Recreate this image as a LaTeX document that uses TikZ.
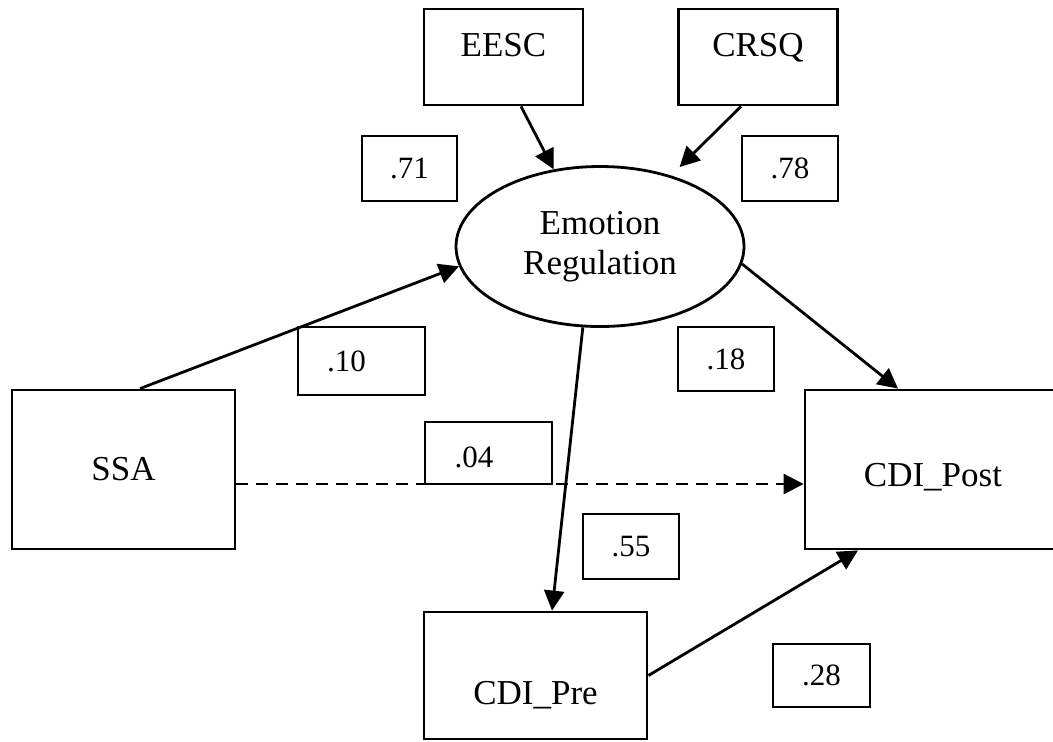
\documentclass[tikz,border=0pt]{standalone}
\usepackage{fontspec}
\setmainfont{Liberation Serif}
\usepackage{tikz}
\usetikzlibrary{shapes,arrows.meta,positioning}

\tikzset{
  var/.style={draw, rectangle, line width=1.4pt, inner sep=0pt, font=\fontsize{17.5}{20}\selectfont},
  coef/.style={draw, rectangle, line width=1.4pt, inner sep=0pt, font=\fontsize{15.5}{18}\selectfont},
  latent/.style={draw, ellipse, line width=1.4pt, inner sep=0pt, align=center, font=\fontsize{17.5}{20}\selectfont},
  path/.style={line width=1.4pt, -{Triangle[length=10pt,width=10pt]}},
}

\begin{document}
\begin{tikzpicture}[x=0.5pt, y=-0.5pt]
    \useasboundingbox (0,0) rectangle (1053,741);

    % Indicators
    \node[var, minimum width=79.5pt, minimum height=48pt, text height=12pt, text depth=12.9pt] (eesc) at (503.5,57) {EESC};
    \node[var, minimum width=79.5pt, minimum height=48pt, text height=12pt, text depth=12.9pt] (crsq) at (758,57) {CRSQ};

    % Latent variable
    \node[latent, minimum width=144pt, minimum height=80pt] (er) at (600,246.5) {Emotion\\Regulation};

    % Observed variables
    \node[var, minimum width=111.5pt, minimum height=79.5pt] (ssa) at (123.5,469.5) {SSA};
    \node[var, minimum width=128pt, minimum height=79.5pt, text height=17.1pt, text depth=0pt] (cdipost) at (933,469.5) {CDI\_Post};
    \node[var, minimum width=111.5pt, minimum height=63.5pt, text height=28.6pt, text depth=0pt] (cdipre) at (535.5,675.5) {CDI\_Pre};

    % Coefficients
    \node[coef, minimum width=47.5pt, minimum height=32.5pt] (c71) at (409.5,168.5) {.71};
    \node[coef, minimum width=48pt, minimum height=32.5pt] (c78) at (790,168.5) {.78};
    \node[coef, minimum width=63.5pt, minimum height=34pt] (c10) at (361.5,361) {.10\hspace*{15pt}};
    \node[coef, minimum width=63.5pt, minimum height=31pt, text height=14pt, text depth=0pt] (c04) at (488.5,453) {.04\hspace*{14.5pt}};
    \node[coef, minimum width=48pt, minimum height=32pt] (c18) at (726,359) {.18};
    \node[coef, minimum width=48pt, minimum height=32.5pt] (c55) at (631,546.5) {.55};
    \node[coef, minimum width=48.5pt, minimum height=31.5pt] (c28) at (821.5,675.5) {.28};

    % Paths
    \draw[path] ([xshift=8.75pt]eesc.south) -- (er.121);
    \draw[path, shorten >=6pt] ([xshift=-8.5pt]crsq.south) -- (er.45);
    \draw[path] ([xshift=8.25pt]ssa.north) -- (er.188);
    \draw[path] (er.-7) -- ([xshift=-17.5pt]cdipost.north);
    \draw[path] (er.-102) -- ([xshift=8.25pt]cdipre.north);
    \draw[path] (cdipre.east) -- ([xshift=-37.5pt]cdipost.south);
    \draw[path, dash pattern=on 6pt off 4pt] ([yshift=-7.25pt]ssa.east) -- ([yshift=-7.25pt]cdipost.west);
\end{tikzpicture}
\end{document}
